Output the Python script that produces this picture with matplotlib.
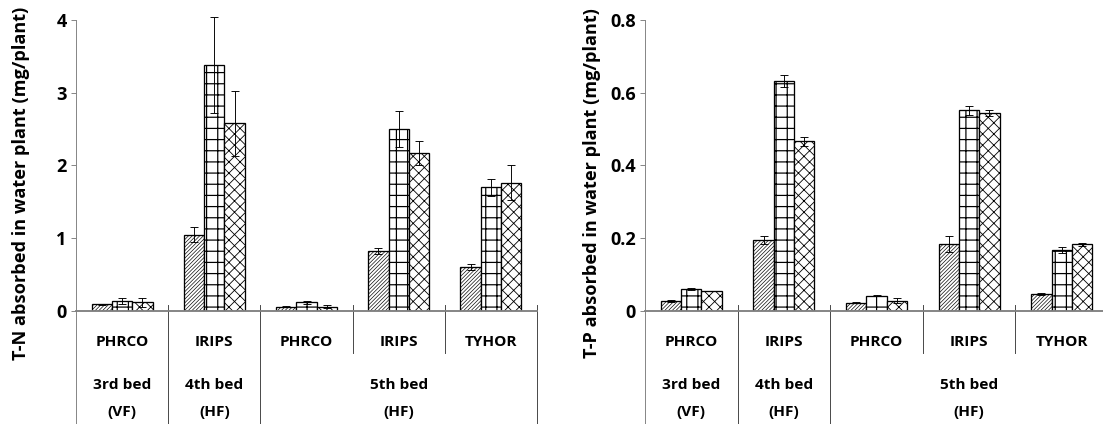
import numpy as np
import matplotlib
matplotlib.use("Agg")
import matplotlib.pyplot as plt

# 数据：每组三种处理（斜线 / 方格 / 交叉）
species = ["PHRCO", "IRIPS", "PHRCO", "IRIPS", "TYHOR"]
beds = [("3rd bed", "(VF)", 0), ("4th bed", "(HF)", 1), ("5th bed", "(HF)", 3)]

tn_a = [0.09, 1.05, 0.06, 0.82, 0.61]
tn_b = [0.14, 3.38, 0.12, 2.50, 1.70]
tn_c = [0.12, 2.58, 0.06, 2.17, 1.76]
tn_a_err = [0.01, 0.10, 0.005, 0.04, 0.04]
tn_b_err = [0.04, 0.66, 0.02, 0.25, 0.12]
tn_c_err = [0.06, 0.45, 0.02, 0.16, 0.24]

tp_a = [0.028, 0.195, 0.023, 0.183, 0.046]
tp_b = [0.060, 0.633, 0.042, 0.552, 0.168]
tp_c = [0.055, 0.466, 0.028, 0.544, 0.183]
tp_a_err = [0.003, 0.011, 0.001, 0.022, 0.003]
tp_b_err = [0.003, 0.016, 0.001, 0.012, 0.008]
tp_c_err = [0.001, 0.012, 0.007, 0.008, 0.004]

DPI = 67
W, H = 1103, 424
plt.rcParams['font.family'] = ['Open Sans', 'DejaVu Sans']
plt.rcParams['font.weight'] = 'bold'

fig = plt.figure(figsize=(W / DPI, H / DPI), dpi=DPI)

AX_TOP, AX_BOT = 20, 311


def fy(p):
    # 像素 y -> 坐标轴比例
    return (AX_BOT - p) / (AX_BOT - AX_TOP)


def draw_panel(x0, width, vals, errs, ymax, yticks, yticklabels, ylabel, ylabel_x):
    ax = fig.add_axes([x0 / W, (H - AX_BOT) / H, width / W, (AX_BOT - AX_TOP) / H])
    x = np.arange(len(species))
    w = 0.22
    hatches = ['//////', '+', 'xx']
    hatch_lw = [0.7, 1.3, 0.9]
    for k in range(3):
        with plt.rc_context({'hatch.linewidth': hatch_lw[k]}):
            ax.bar(x + (k - 1) * w, vals[k], w, color='white', edgecolor='black',
                   linewidth=1.4, hatch=hatches[k], zorder=2)
        ax.errorbar(x + (k - 1) * w, vals[k], yerr=errs[k], fmt='none',
                    ecolor='black', elinewidth=1.0, capsize=4, capthick=1.0,
                    zorder=3, clip_on=False)
    ax.set_xlim(-0.5, len(species) - 0.5)
    ax.set_ylim(0, ymax)
    ax.set_yticks(yticks)
    ax.set_yticklabels(yticklabels, fontsize=19.5, fontweight='bold')
    ax.set_xticks([])
    for s in ['top', 'right']:
        ax.spines[s].set_visible(False)
    ax.spines['bottom'].set_color('#808080')
    ax.spines['bottom'].set_linewidth(2.0)
    ax.spines['bottom'].set_zorder(4)
    ax.spines['left'].set_color('#808080')
    ax.spines['left'].set_linewidth(1.0)
    ax.tick_params(axis='y', length=5, width=1, color='#808080', pad=5)

    tr = ax.get_xaxis_transform()
    # y 轴向下延伸
    ax.plot([-0.5, -0.5], [0, fy(H)], transform=tr, color='#808080', lw=1.0, clip_on=False)
    # 分隔线
    long_sep = [0.5, 1.5, 4.5]
    short_sep = [2.5, 3.5]
    for s in long_sep:
        ax.plot([s, s], [fy(305), fy(H)], transform=tr, color='#404040', lw=1.0, clip_on=False)
    for s in short_sep:
        ax.plot([s, s], [fy(305), fy(353)], transform=tr, color='#404040', lw=1.0, clip_on=False)

    for i, name in enumerate(species):
        ax.text(i, fy(342), name, transform=tr, ha='center', va='center',
                fontsize=16.5, fontweight='bold')
    for b1, b2, cx in beds:
        ax.text(cx, fy(385), b1, transform=tr, ha='center', va='center',
                fontsize=16.5, fontweight='bold')
        ax.text(cx, fy(412), b2, transform=tr, ha='center', va='center',
                fontsize=16.5, fontweight='bold')

    fig.text(ylabel_x / W, (H - 183) / H, ylabel, rotation=90, ha='center', va='center',
             fontsize=19.5, fontweight='bold')
    return ax


draw_panel(76, 461, [tn_a, tn_b, tn_c], [tn_a_err, tn_b_err, tn_c_err],
           4, [0, 1, 2, 3, 4], ['0', '1', '2', '3', '4'],
           "T-N absorbed in water plant (mg/plant)", 21)
draw_panel(645, 463, [tp_a, tp_b, tp_c], [tp_a_err, tp_b_err, tp_c_err],
           0.8, [0, 0.2, 0.4, 0.6, 0.8], ['0', '0.2', '0.4', '0.6', '0.8'],
           "T-P absorbed in water plant (mg/plant)", 592)

fig.savefig("out.png", dpi=DPI)
